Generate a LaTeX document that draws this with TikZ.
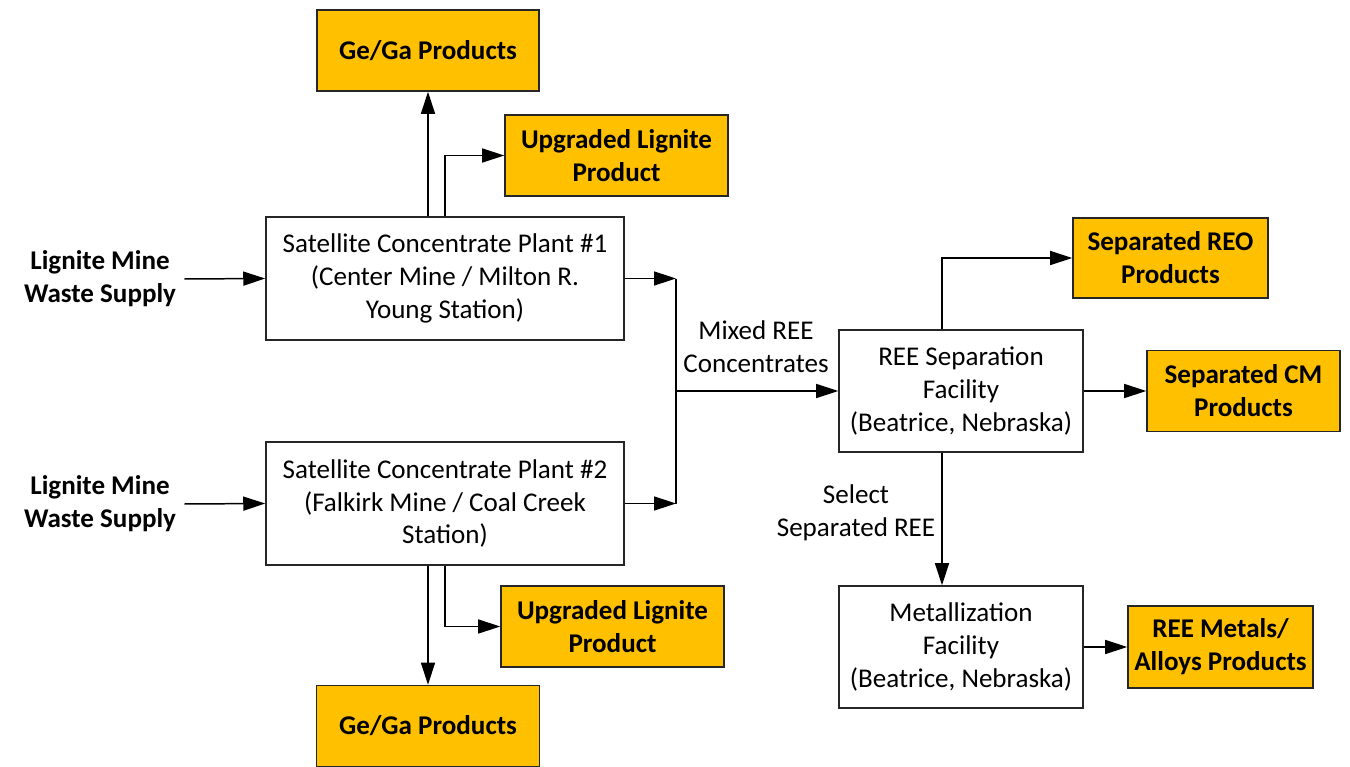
\documentclass[tikz,border=0pt]{standalone}
\usepackage{fontspec}
\setmainfont{Carlito}
\usetikzlibrary{arrows.meta}

\definecolor{prodgold}{HTML}{FFC000}
\newcommand{\flowfont}{\fontsize{15.4}{18.7}\selectfont}

\begin{document}
\begin{tikzpicture}[x=0.02cm, y=-0.02cm,
    box/.style={draw=black!85, line width=0.9pt, align=center, inner sep=2pt, font=\flowfont},
    plant/.style={box, minimum width=7.16cm, minimum height=2.46cm},
    facility/.style={box, minimum width=4.88cm, minimum height=2.44cm},
    product/.style={box, fill=prodgold, minimum height=1.62cm, font=\flowfont\bfseries},
    inlet/.style={align=center, inner sep=0.16cm, font=\flowfont\bfseries},
    flowlabel/.style={align=center, inner sep=1pt, font=\flowfont},
    arr/.style={-{Triangle[length=0.44cm, width=0.28cm]}, line width=0.85pt},
    link/.style={line width=0.85pt}]
        \useasboundingbox (0,0) rectangle (1350,767);

        % Supply
        \node[inlet] (waste1) at (100,279) {Lignite Mine\\Waste Supply};
        \node[inlet] (waste2) at (100,504) {Lignite Mine\\Waste Supply};

        % Satellite plants
        \node[plant] (scp1) at (445,278.5) {Satellite Concentrate Plant \#1\\(Center Mine / Milton R.\\Young Station)};
        \node[plant] (scp2) at (445,503.5) {Satellite Concentrate Plant \#2\\(Falkirk Mine / Coal Creek\\Station)};

        % Plant products
        \node[product, minimum width=4.44cm] (gega1) at (428,50.5) {Ge/Ga Products};
        \node[product, minimum width=4.46cm] (upg1) at (616.5,155.5) {Upgraded Lignite\\Product};
        \node[product, minimum width=4.46cm] (upg2) at (612.5,626.5) {Upgraded Lignite\\Product};
        \node[product, minimum width=4.46cm] (gega2) at (428,726) {Ge/Ga Products};

        % Facilities
        \node[facility] (ree) at (961,391) {REE Separation\\Facility\\(Beatrice, Nebraska)};
        \node[facility] (metal) at (961,647) {Metallization\\Facility\\(Beatrice, Nebraska)};

        % Final products
        \node[product, minimum width=3.9cm, minimum height=1.6cm] (reo) at (1170.5,258) {Separated REO\\Products};
        \node[product, minimum width=3.86cm] (cm) at (1243.5,391) {Separated CM\\Products};
        \node[product, minimum width=3.7cm, minimum height=1.64cm] (alloys) at (1220.5,647) {REE Metals/\\Alloys Products};

        % Labels
        \node[flowlabel] (mixed) at (756,347) {Mixed REE\\Concentrates};
        \node[flowlabel] (select) at (856,513) {Select\\Separated REE};

        % Junction
        \coordinate (j1) at (676,278.5);
        \coordinate (j2) at (676,503.5);
        \coordinate (jn) at (676,391);

        % Arrows
        \draw[arr] (waste1.east) -- (scp1.west);
        \draw[arr] (waste2.east) -- (scp2.west);
        \draw[arr] (gega1 |- scp1.north) -- (gega1.south);
        \draw[arr] (scp1.north) |- (upg1.west);
        \draw[arr] (gega2 |- scp2.south) -- (gega2.north);
        \draw[arr] (scp2.south) |- (upg2.west);
        \draw[arr] (scp1.east) -- (j1);
        \draw[arr] (scp2.east) -- (j2);
        \draw[link] (j1) -- (j2);
        \draw[arr] (jn) -- (ree.west);
        \draw[arr] ([xshift=-0.38cm]ree.north) |- (reo.west);
        \draw[arr] (ree.east) -- (cm.west);
        \draw[arr] ([xshift=-0.38cm]ree.south) -- ([xshift=-0.38cm]metal.north);
        \draw[arr] (metal.east) -- (alloys.west);
\end{tikzpicture}
\end{document}
